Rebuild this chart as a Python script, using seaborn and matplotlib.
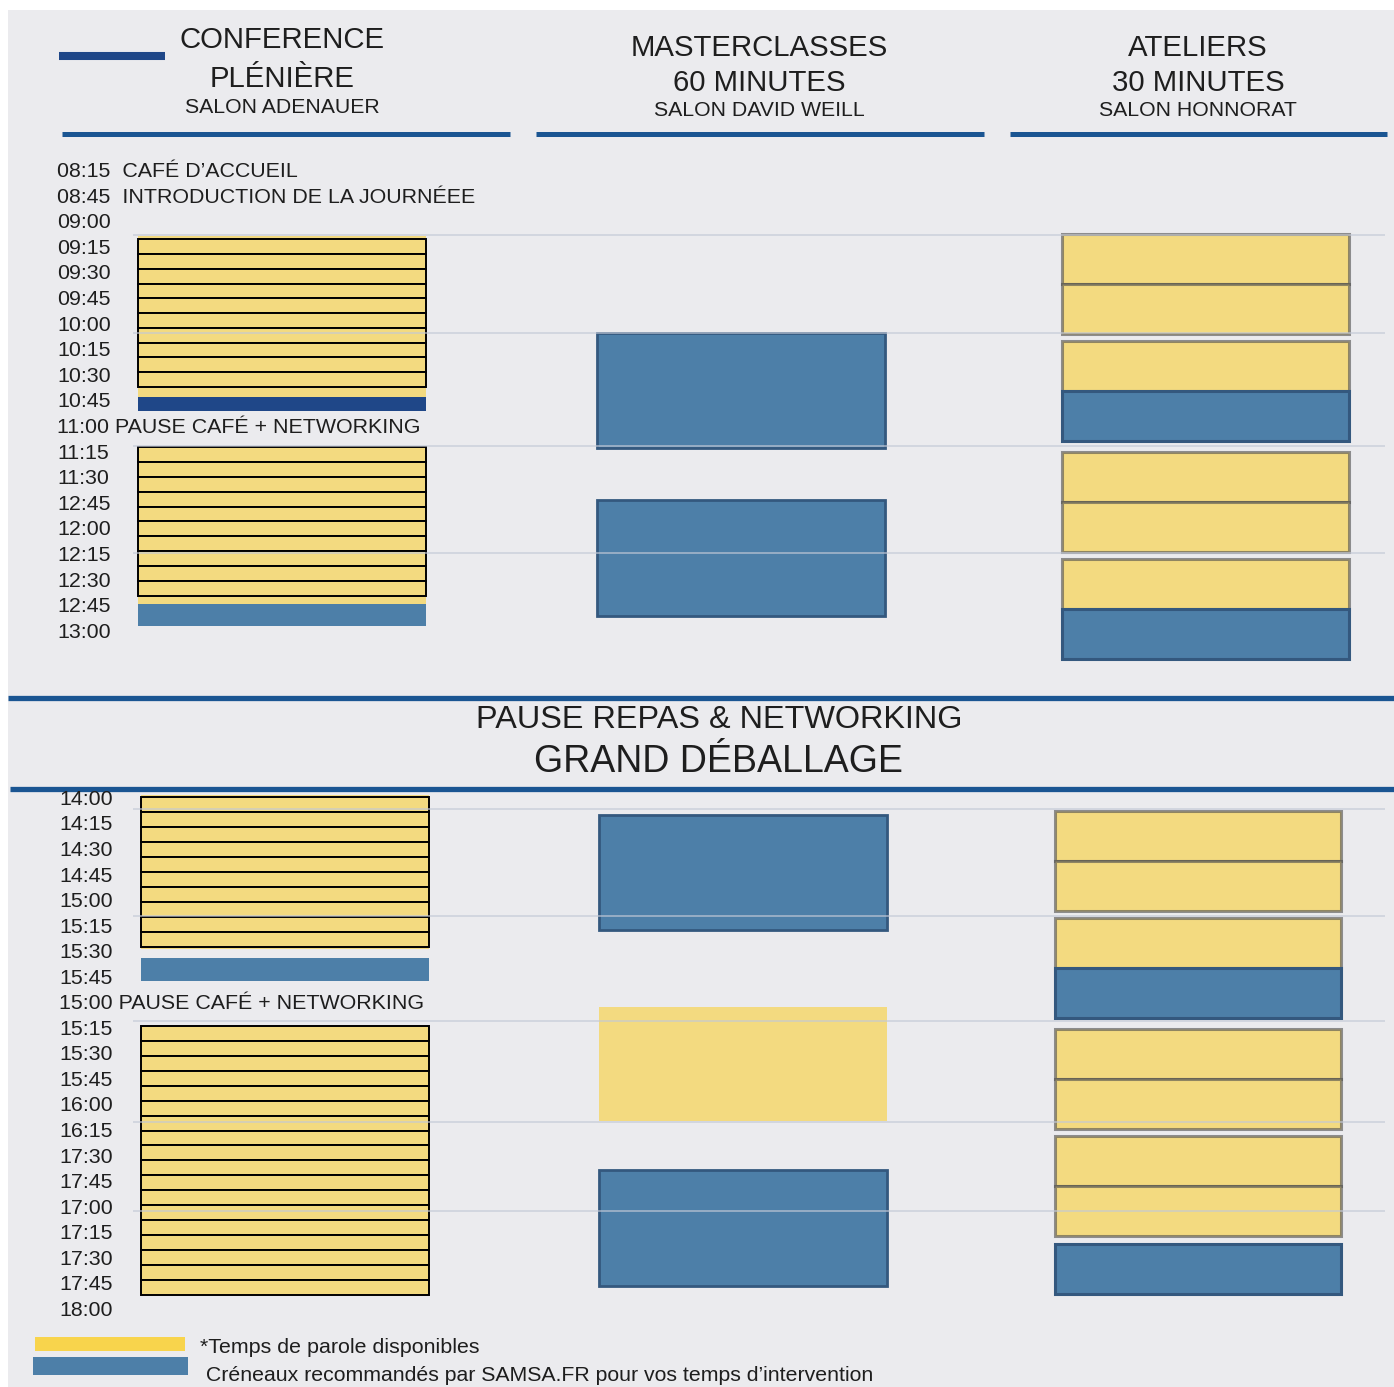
import matplotlib
matplotlib.use("Agg")
import matplotlib.pyplot as plt
import seaborn as sns
from matplotlib.patches import Rectangle

# ---- schedule rows (top to bottom) ----
am_labels = ["08:15  CAFÉ D’ACCUEIL", "08:45  INTRODUCTION DE LA JOURNÉEE", "09:00",
             "09:15", "09:30", "09:45", "10:00", "10:15", "10:30", "10:45",
             "11:00 PAUSE CAFÉ + NETWORKING", "11:15", "11:30", "12:45", "12:00",
             "12:15", "12:30", "12:45", "13:00"]
pm_labels = ["14:00", "14:15", "14:30", "14:45", "15:00", "15:15", "15:30", "15:45",
             "15:00 PAUSE CAFÉ + NETWORKING", "15:15", "15:30", "15:45", "16:00",
             "16:15", "17:30", "17:45", "17:00", "17:15", "17:30", "17:45", "18:00"]

# plenary sessions: (first slot start row, last slot end row, number of slots)
am_plenary = [(2.70, 8.48, 10), (10.82, 16.64, 10)]
pm_plenary = [(-0.04, 5.83, 10), (8.92, 19.45, 18)]
# yellow backdrop behind the plenary slots (start row, end row)
am_plenary_fill = [(2.58, 8.87), (10.82, 16.95)]
pm_plenary_fill = [(-0.12, 5.91)]
# recommended slots after plenary blocks (start row, end row, kind)
am_plenary_reco = [(8.87, 9.41, "dark"), (16.95, 17.81, "reco")]
pm_plenary_reco = [(6.26, 7.16, "reco")]

# masterclasses 60 minutes: (start row, end row, kind)
am_master = [(6.37, 10.86, "reco"), (12.89, 17.42, "reco")]
pm_master = [(0.67, 5.17, "reco"), (8.18, 12.64, "open"), (14.56, 19.10, "reco")]

# ateliers 30 minutes: (start row, end row, kind)
am_ateliers = [(2.50, 4.46, "open"), (4.46, 6.41, "open"), (6.68, 8.64, "open"),
               (8.64, 10.59, "reco"), (11.02, 12.97, "open"), (12.97, 14.92, "open"),
               (15.20, 17.15, "open"), (17.15, 19.10, "reco")]
pm_ateliers = [(0.51, 2.47, "open"), (2.47, 4.42, "open"), (4.70, 6.66, "open"),
               (6.66, 8.61, "reco"), (9.04, 11.00, "open"), (11.00, 12.95, "open"),
               (13.23, 15.19, "open"), (15.19, 17.14, "open"), (17.46, 19.41, "reco")]

# hour guide lines (row positions)
am_hours = [2.54, 6.37, 10.78, 14.96]
pm_hours = [0.43, 4.62, 8.73, 12.68, 16.16]

headers = [["CONFERENCE", "PLÉNIÈRE", "SALON ADENAUER"],
           ["MASTERCLASSES", "60 MINUTES", "SALON DAVID WEILL"],
           ["ATELIERS", "30 MINUTES", "SALON HONNORAT"]]
legend_labels = ["*Temps de parole disponibles",
                 " Créneaux recommandés par SAMSA.FR pour vos temps d’intervention"]

# ---- styling ----
W, H = 1394, 1387
BG = "#ebebee"
YELLOW = "#f3da80"
STEEL = "#4d7fa8"
NAVY = "#1f4788"
LINE_BLUE = "#1a5592"
TXT = "#1e1e1e"
GRID = "#c3c9d6"
KIND_COLOR = {"open": YELLOW, "reco": STEEL, "dark": NAVY}

sns.set_theme(style="white")
plt.rcParams["font.family"] = ["Liberation Sans", "DejaVu Sans"]

fig = plt.figure(figsize=(W / 100, H / 100), dpi=100)
fig.patch.set_facecolor("white")

# page layer in pixel coordinates for panel, rules and captions
page = fig.add_axes([0, 0, 1, 1])
page.set_xlim(0, W)
page.set_ylim(H, 0)
page.axis("off")
page.add_patch(Rectangle((8, 10), W - 8, H - 10, facecolor=BG, edgecolor="none"))

page.plot([59, 165], [56, 56], color=NAVY, lw=5.8, solid_capstyle="butt")
for x0, x1 in [(62, 510), (536, 984), (1010, 1387)]:
    page.plot([x0, x1], [134, 134], color=LINE_BLUE, lw=3.6, solid_capstyle="butt")
page.plot([8, W], [697.5, 697.5], color=LINE_BLUE, lw=3.8, solid_capstyle="butt")
page.plot([10, W], [789, 789], color=LINE_BLUE, lw=3.8, solid_capstyle="butt")

header_x = [282, 759, 1198]
header_base = [[48, 87, 113], [56, 91, 116], [56, 91, 116]]
for cx, lines, bases in zip(header_x, headers, header_base):
    for i, (txt, yb) in enumerate(zip(lines, bases)):
        page.text(cx, yb, txt, ha="center", va="baseline", color=TXT,
                  fontsize=15.3 if i == 2 else 21.2)

page.text(719, 728, "PAUSE REPAS & NETWORKING", ha="center", va="baseline",
          color=TXT, fontsize=23.3)
page.text(718, 772, "GRAND DÉBALLAGE", ha="center", va="baseline",
          color=TXT, fontsize=27)

page.add_patch(Rectangle((35, 1337), 150, 14, facecolor="#f8d44c", edgecolor="none"))
page.add_patch(Rectangle((33, 1357), 155, 18, facecolor=STEEL, edgecolor="none"))
page.text(200, 1353, legend_labels[0], va="baseline", color=TXT, fontsize=15.4)
page.text(200, 1381, legend_labels[1], va="baseline", color=TXT, fontsize=15.35)


def section(y0, step, label_x):
    """Transparent axes where one row unit = one label line of the schedule."""
    ax = fig.add_axes([0, 0, 1, 1], facecolor="none")
    ax.set_xlim(0, W)
    ax.set_ylim((H - y0) / step, -y0 / step)
    ax.axis("off")
    ax.label_x = label_x
    return ax


def draw_section(ax, labels, plenary, fill, reco, master, ateliers, hours, cols):
    for i, lab in enumerate(labels):
        ax.text(ax.label_x, i + 0.27, lab, va="baseline", color=TXT, fontsize=15.4)

    px0, px1 = cols["plenary"]
    for s, e in fill:
        ax.bar((px0 + px1) / 2, e - s, bottom=s, width=px1 - px0, color=YELLOW,
               edgecolor="none", align="center", zorder=2)
    for s, e, n in plenary:
        step = (e - s) / n
        starts = [s + k * step for k in range(n)]
        ax.bar([(px0 + px1) / 2] * n, [step] * n, bottom=starts, width=px1 - px0,
               color=YELLOW, edgecolor="black", linewidth=1.4, zorder=3)
    for s, e, kind in reco:
        ax.bar((px0 + px1) / 2, e - s, bottom=s, width=px1 - px0,
               color=KIND_COLOR[kind], edgecolor="none", zorder=3)

    mx0, mx1 = cols["master"]
    for s, e, kind in master:
        ax.bar((mx0 + mx1) / 2, e - s, bottom=s, width=mx1 - mx0,
               color=KIND_COLOR[kind],
               edgecolor="#34587e" if kind == "reco" else "none",
               linewidth=2, zorder=3)

    tx0, tx1 = cols["ateliers"]
    for s, e, kind in ateliers:
        ax.bar((tx0 + tx1) / 2, e - s, bottom=s, width=tx1 - tx0,
               color=KIND_COLOR[kind],
               edgecolor=(0.3, 0.3, 0.3, 0.6) if kind == "open" else "#34587e",
               linewidth=2.2, zorder=3)

    ax.hlines(hours, 133, 1385, color=GRID, linewidth=1.1, alpha=0.8, zorder=4)


ax_am = section(170, 25.6, 57)
draw_section(ax_am, am_labels, am_plenary, am_plenary_fill, am_plenary_reco,
             am_master, am_ateliers, am_hours,
             {"plenary": (138, 426), "master": (597, 885), "ateliers": (1062, 1349)})

ax_pm = section(798, 25.55, 59)
draw_section(ax_pm, pm_labels, pm_plenary, pm_plenary_fill, pm_plenary_reco,
             pm_master, pm_ateliers, pm_hours,
             {"plenary": (141, 429), "master": (599, 887), "ateliers": (1055, 1341)})

fig.savefig("out.png", dpi=100, facecolor=fig.get_facecolor())
